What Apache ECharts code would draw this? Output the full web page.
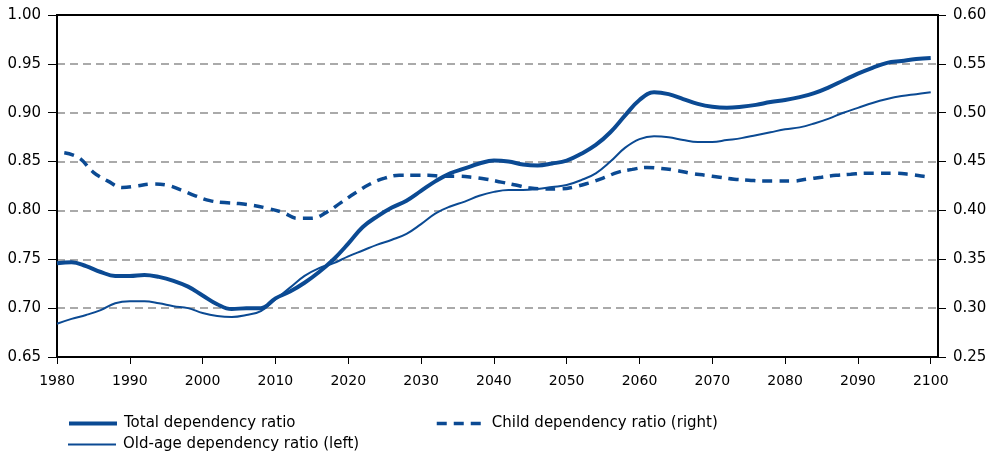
<!DOCTYPE html>
<html>
<head>
<meta charset="utf-8">
<script src="https://cdn.jsdelivr.net/npm/echarts@6/dist/echarts.min.js"></script>
<style>
  html, body { margin: 0; padding: 0; background: #fff; }
  #chart { width: 990px; height: 454px; }
</style>
</head>
<body>
<div id="chart"></div>
<script>
// years for total and old-age (every 2 years)
const years = [];
for (let y = 1980; y <= 2100; y += 2) years.push(y);

const totalRatio = [0.746, 0.747, 0.743, 0.737, 0.733, 0.733, 0.734, 0.732, 0.728, 0.722,
    0.713, 0.704, 0.699, 0.700, 0.700, 0.710, 0.717, 0.726, 0.737, 0.750,
    0.766, 0.783, 0.794, 0.803, 0.810, 0.820, 0.830, 0.838, 0.843, 0.848,
    0.851, 0.850, 0.847, 0.846, 0.848, 0.851, 0.858, 0.867, 0.880, 0.897,
    0.913, 0.921, 0.919, 0.914, 0.909, 0.906, 0.905, 0.906, 0.908, 0.911,
    0.913, 0.916, 0.920, 0.926, 0.933, 0.940, 0.946, 0.951, 0.953, 0.955,
    0.956];

const oldAgeRatio = [0.684, 0.689, 0.693, 0.698, 0.705, 0.707, 0.707, 0.705, 0.702, 0.700,
    0.695, 0.692, 0.691, 0.693, 0.697, 0.709, 0.721, 0.733, 0.741, 0.746,
    0.753, 0.759, 0.765, 0.770, 0.776, 0.786, 0.797, 0.804, 0.809, 0.815,
    0.819, 0.821, 0.821, 0.822, 0.824, 0.826, 0.831, 0.838, 0.850, 0.864,
    0.873, 0.876, 0.875, 0.872, 0.870, 0.870, 0.872, 0.874, 0.877, 0.880,
    0.883, 0.885, 0.889, 0.894, 0.900, 0.905, 0.910, 0.914, 0.917, 0.919,
    0.921];

// child ratio on right axis (odd years + 2100)
const childYears = [];
for (let y = 1981; y <= 2099; y += 2) childYears.push(y);
childYears.push(2100);

const childRatio = [0.459, 0.454, 0.439, 0.430, 0.4235, 0.425, 0.427, 0.426, 0.421, 0.415,
    0.410, 0.408, 0.407, 0.405, 0.402, 0.398, 0.392, 0.392, 0.398, 0.408,
    0.418, 0.427, 0.433, 0.436, 0.436, 0.436, 0.435, 0.435, 0.434, 0.432,
    0.429, 0.426, 0.423, 0.422, 0.422, 0.424, 0.428, 0.433, 0.439, 0.442,
    0.444, 0.443, 0.441, 0.438, 0.436, 0.434, 0.432, 0.431, 0.430, 0.430,
    0.430, 0.432, 0.434, 0.436, 0.437, 0.438, 0.438, 0.438, 0.437, 0.435,
    0.434];

const leftTicks = ['0.65', '0.70', '0.75', '0.80', '0.85', '0.90', '0.95', '1.00'];
const rightTicks = ['0.25', '0.30', '0.35', '0.40', '0.45', '0.50', '0.55', '0.60'];

const blue = '#0b4a93';
const font = 'DejaVu Sans';

function pairs(xs, vs) {
    return xs.map((x, i) => [x, vs[i]]);
}

function legendFor(name, left, top, lineStyle) {
    return {
        data: [name],
        left: left,
        top: top,
        itemWidth: 48, itemHeight: 10,
        itemStyle: { opacity: 0 },
        lineStyle: Object.assign({ color: blue }, lineStyle),
        textStyle: { fontFamily: font, fontSize: 15, color: '#000', padding: [0, 0, 0, 2] }
    };
}

const chart = echarts.init(document.getElementById('chart'));
const option = {
    animation: false,
    backgroundColor: '#fff',
    grid: {
        left: 57,
        right: 52,
        top: 15,
        bottom: 97,
        show: true,
        borderColor: '#000',
        borderWidth: 2
    },
    xAxis: {
        type: 'value',
        min: 1980,
        max: 2101,
        interval: 10,
        axisLine: { onZero: false, lineStyle: { color: '#000', width: 2 } },
        axisTick: { show: true, length: 7, lineStyle: { color: '#000' } },
        axisLabel: {
            color: '#000', fontFamily: font, fontSize: 14, margin: 17,
            showMaxLabel: false,
            formatter: v => String(v)
        },
        splitLine: { show: false }
    },
    yAxis: [{
        type: 'value',
        min: 0.65,
        max: 1.00,
        interval: 0.05,
        axisLine: { show: true, lineStyle: { color: '#000', width: 2 } },
        axisTick: { show: true, length: 9, lineStyle: { color: '#000' } },
        axisLabel: {
            color: '#000', fontFamily: font, fontSize: 15, margin: 16,
            formatter: (v) => leftTicks[Math.round((v - 0.65) / 0.05)]
        },
        splitLine: {
            show: true, showMinLine: false, showMaxLine: false,
            lineStyle: { color: '#8f8f8f', type: [8, 5], width: 1.6 }
        }
    }, {
        type: 'value',
        min: 0.25,
        max: 0.60,
        interval: 0.05,
        position: 'right',
        axisLine: { show: true, lineStyle: { color: '#000', width: 2 } },
        axisTick: { show: true, length: 8, lineStyle: { color: '#000' } },
        axisLabel: {
            color: '#000', fontFamily: font, fontSize: 15, margin: 15,
            formatter: (v) => rightTicks[Math.round((v - 0.25) / 0.05)]
        },
        splitLine: { show: false }
    }],
    legend: [
        legendFor('Total dependency ratio', 62, 411, { width: 4 }),
        legendFor('Child dependency ratio (right)', 430, 411, { width: 3.5, type: [10, 7] }),
        legendFor('Old-age dependency ratio (left)', 62, 432, { width: 2 })
    ],
    series: [{
        name: 'Total dependency ratio',
        type: 'line',
        yAxisIndex: 0,
        data: pairs(years, totalRatio),
        smooth: 0.4,
        showSymbol: false,
        symbol: 'none',
        color: blue,
        lineStyle: { color: blue, width: 4 }
    }, {
        name: 'Child dependency ratio (right)',
        type: 'line',
        yAxisIndex: 1,
        data: pairs(childYears, childRatio),
        smooth: 0.4,
        showSymbol: false,
        symbol: 'none',
        color: blue,
        lineStyle: { color: blue, width: 3.5, type: [10, 7] }
    }, {
        name: 'Old-age dependency ratio (left)',
        type: 'line',
        yAxisIndex: 0,
        data: pairs(years, oldAgeRatio),
        smooth: 0.4,
        showSymbol: false,
        symbol: 'none',
        color: blue,
        lineStyle: { color: blue, width: 2 }
    }]
};

chart.setOption(option);
</script>
</body>
</html>
